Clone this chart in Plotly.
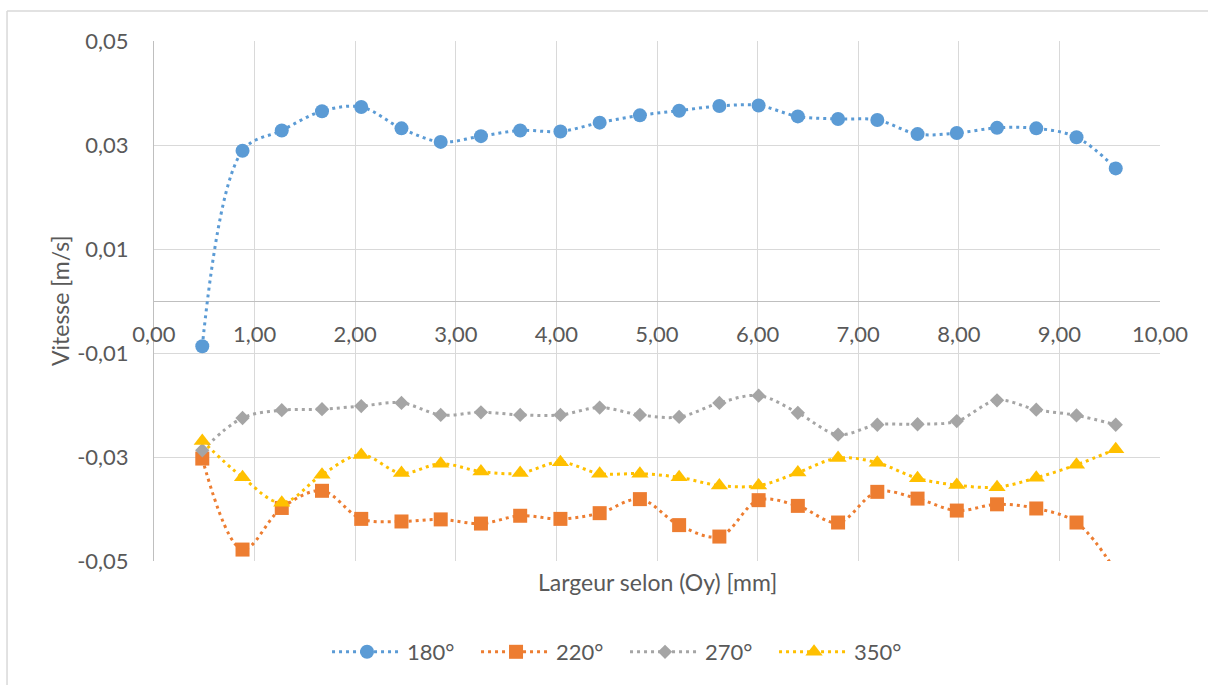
import plotly.graph_objects as go

# Data
x_mm = [0.48, 0.88, 1.27, 1.67, 2.06, 2.46, 2.85, 3.25, 3.64, 4.04, 4.43, 4.83,
        5.22, 5.62, 6.01, 6.40, 6.80, 7.19, 7.59, 7.98, 8.38, 8.77, 9.17, 9.56]

v180 = [-0.0087, 0.0289, 0.0328, 0.0365, 0.0373, 0.0332, 0.0306, 0.0317, 0.0328, 0.0326,
        0.0343, 0.0357, 0.0366, 0.0375, 0.0376, 0.0355, 0.0350, 0.0348, 0.0321, 0.0323,
        0.0333, 0.0332, 0.0315, 0.0255]
v220 = [-0.0303, -0.0478, -0.0398, -0.0365, -0.0419, -0.0424, -0.0420, -0.0428, -0.0413, -0.0419,
        -0.0408, -0.0381, -0.0431, -0.0453, -0.0383, -0.0394, -0.0426, -0.0367, -0.0380, -0.0403,
        -0.0391, -0.0399, -0.0426, -0.0520]
v270 = [-0.0287, -0.0225, -0.0210, -0.0208, -0.0202, -0.0196, -0.0219, -0.0214, -0.0219, -0.0219,
        -0.0205, -0.0219, -0.0223, -0.0196, -0.0182, -0.0215, -0.0257, -0.0238, -0.0237, -0.0231,
        -0.0191, -0.0209, -0.0220, -0.0238]
v350 = [-0.0269, -0.0339, -0.0388, -0.0334, -0.0296, -0.0331, -0.0313, -0.0328, -0.0331, -0.0310,
        -0.0332, -0.0332, -0.0339, -0.0355, -0.0355, -0.0330, -0.0302, -0.0311, -0.0341, -0.0354,
        -0.0358, -0.0340, -0.0315, -0.0285]

series_names = ["180°", "220°", "270°", "350°"]

x_tickvals = [0, 1, 2, 3, 4, 5, 6, 7, 8, 9, 10]
x_ticktext = ["0,00", "1,00", "2,00", "3,00", "4,00", "5,00", "6,00", "7,00", "8,00", "9,00", "10,00"]
y_tickvals = [-0.05, -0.03, -0.01, 0.01, 0.03, 0.05]
y_ticktext = ["-0,05", "-0,03", "-0,01", "0,01", "0,03", "0,05"]

x_title = "Largeur selon (Oy) [mm]"
y_title = "Vitesse [m/s]"

FONT = "Lato"
TXT = "#595959"

styles = [
    dict(color="#5B9BD5", symbol="circle", size=14),
    dict(color="#ED7D31", symbol="square", size=14),
    dict(color="#A5A5A5", symbol="diamond", size=11),
    dict(color="#FFC000", symbol="triangle-up", size=15),
]
values = [v180, v220, v270, v350]

fig = go.Figure()
for name, vals, st in zip(series_names, values, styles):
    fig.add_trace(go.Scatter(
        x=x_mm, y=vals, name=name, mode="lines+markers",
        line=dict(color=st["color"], width=3, dash="3px,4px", shape="spline", smoothing=1.0),
        marker=dict(color=st["color"], symbol=st["symbol"], size=st["size"], line=dict(width=0)),
    ))

fig.update_layout(
    width=1208, height=685,
    margin=dict(l=154, r=48, t=41, b=124),
    paper_bgcolor="white", plot_bgcolor="white",
    font=dict(family=FONT, size=22, color=TXT),
    showlegend=True,
    legend=dict(orientation="h", x=0.172, xanchor="left", y=-0.175, yanchor="middle",
                font=dict(family=FONT, size=22, color=TXT), bgcolor="rgba(0,0,0,0)",
                traceorder="normal", itemwidth=70, entrywidth=64, entrywidthmode="pixels"),
    xaxis=dict(range=[0, 10], tickvals=x_tickvals, ticktext=x_ticktext,
               showgrid=True, gridcolor="#D9D9D9", gridwidth=1,
               zeroline=False, showline=False, ticks="",
               anchor="free", position=0.5, ticklabelstandoff=18,
               tickfont=dict(family=FONT, size=22, color=TXT)),
    yaxis=dict(range=[-0.05, 0.05], tickvals=y_tickvals, ticktext=y_ticktext,
               showgrid=True, gridcolor="#D9D9D9", gridwidth=1,
               zeroline=True, zerolinecolor="#BFBFBF", zerolinewidth=1,
               showline=True, linecolor="#BFBFBF", linewidth=1, ticks="",
               ticklabelstandoff=20,
               tickfont=dict(family=FONT, size=22, color=TXT)),
    annotations=[
        dict(text=x_title, xref="paper", yref="paper", x=0.5, y=-0.04,
             xanchor="center", yanchor="middle", showarrow=False,
             font=dict(family=FONT, size=23, color=TXT)),
        dict(text=y_title, xref="paper", yref="paper", x=-0.0934, y=0.5,
             xanchor="center", yanchor="middle", showarrow=False, textangle=-90,
             font=dict(family=FONT, size=23, color=TXT)),
    ],
    shapes=[
        dict(type="line", xref="paper", yref="paper", x0=-0.1461, x1=1.2, y0=1.0577, y1=1.0577,
             line=dict(color="#D9D9D9", width=1.5), layer="below"),
        dict(type="line", xref="paper", yref="paper", x0=-0.1461, x1=-0.1461, y0=1.0577, y1=-0.4,
             line=dict(color="#D9D9D9", width=1.5), layer="below"),
    ],
)

fig.write_html("out.html", config={"displayModeBar": False},
               post_script="document.body.style.margin='0px';")
